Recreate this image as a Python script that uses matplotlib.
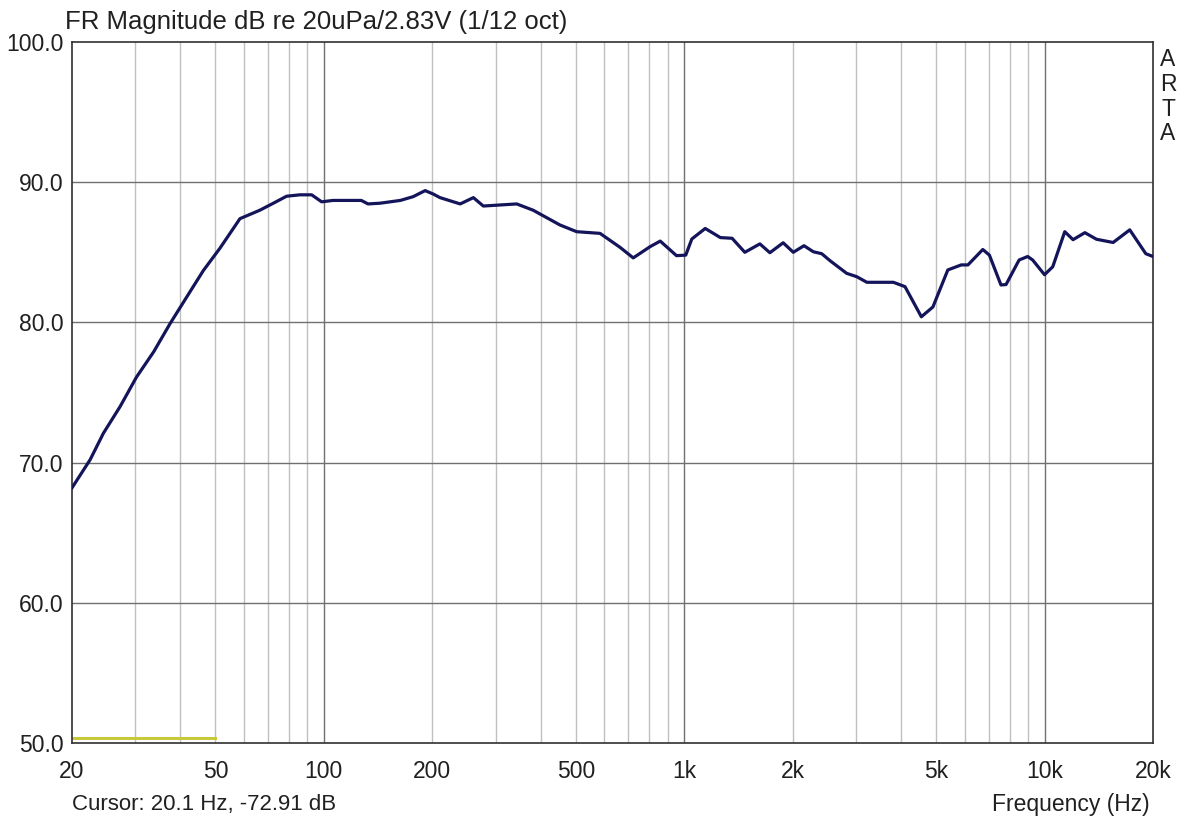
"""
ARTA style frequency response plot (1/12 oct smoothed).
"""
import numpy as np
import matplotlib
matplotlib.use('Agg')
import matplotlib.pyplot as plt
from matplotlib.ticker import FixedLocator, NullFormatter

# values
freq = [20, 22.45, 24.45, 27.2, 30.2, 33.7, 37.4, 41.6, 46.3, 51.5, 58.5,
        66.4, 72.4, 78.8, 85.8, 92.5, 98.6, 106, 127, 132.6, 143, 163, 177,
        191, 201, 210, 239, 260, 277, 343, 381, 452, 503, 584, 664, 722, 804,
        858, 952, 1010, 1050, 1144, 1260, 1358, 1473, 1622, 1729, 1882, 2008,
        2150, 2282, 2408, 2540, 2824, 3012, 3214, 3808, 4100, 4552, 4900, 5390,
        5872, 6130, 6740, 7030, 7570, 7820, 8500, 8980, 9270, 10000, 10540,
        11380, 12000, 12940, 13940, 15500, 17240, 19100, 20000]
mag = [68.2, 70.2, 72.1, 74.0, 76.1, 77.9, 79.9, 81.8, 83.7, 85.3, 87.4,
       88.0, 88.5, 89.0, 89.1, 89.1, 88.6, 88.7, 88.7, 88.45, 88.5, 88.7,
       88.97, 89.4, 89.16, 88.9, 88.45, 88.9, 88.3, 88.45, 88.0, 86.95, 86.47,
       86.35, 85.35, 84.6, 85.4, 85.8, 84.76, 84.8, 85.95, 86.7, 86.05, 86.0,
       85.0, 85.6, 84.97, 85.68, 85.0, 85.47, 85.04, 84.9, 84.4, 83.5, 83.26,
       82.86, 82.86, 82.55, 80.4, 81.1, 83.74, 84.1, 84.1, 85.2, 84.8, 82.67,
       82.7, 84.45, 84.7, 84.45, 83.4, 83.97, 86.47, 85.9, 86.4, 85.93, 85.7,
       86.6, 84.9, 84.7]

# level marker drawn by ARTA at the bottom left
marker_f = [20, 50]
marker_db = [50.35, 50.35]

x_major = [20, 50, 100, 200, 500, 1000, 2000, 5000, 10000, 20000]
x_labels = ['20', '50', '100', '200', '500', '1k', '2k', '5k', '10k', '20k']
y_ticks = [50, 60, 70, 80, 90, 100]

plt.rcParams['font.family'] = ['Liberation Sans', 'DejaVu Sans']

fig = plt.figure(figsize=(11.86, 8.21), dpi=100)
ax = fig.add_axes([72 / 1186, 1 - 743 / 821, 1081 / 1186, 701 / 821])

ax.set_xscale('log')
ax.set_xlim(20, 20000)
ax.set_ylim(50, 100)

# grid: every 1-9 per decade light, decades darker
minor = [m * 10 ** d for d in range(1, 5) for m in range(1, 10)]
minor = [f for f in minor if 20 < f < 20000 and f not in (100, 1000, 10000)]
for f in minor:
    ax.axvline(f, color='#c0c0c0', lw=1.0, zorder=1)
for f in (100, 1000, 10000):
    ax.axvline(f, color='#707070', lw=1.0, zorder=1)
for y in y_ticks[1:-1]:
    ax.axhline(y, color='#707070', lw=1.0, zorder=1)

ax.plot(freq, mag, color='#14145a', lw=2.3, zorder=3)
ax.plot(marker_f, marker_db, color='#c8c83c', lw=2.2, zorder=2)

ax.xaxis.set_major_locator(FixedLocator(x_major))
ax.set_xticklabels(x_labels)
ax.xaxis.set_minor_formatter(NullFormatter())
ax.tick_params(axis='x', which='both', length=0, labelsize=16.5, pad=12,
               colors='#202020')
ax.set_yticks(y_ticks)
ax.set_yticklabels([f'{v:.1f}' for v in y_ticks])
ax.tick_params(axis='y', length=0, labelsize=16.5, pad=6, colors='#202020')

for s in ax.spines.values():
    s.set_color('#303030')
    s.set_linewidth(1.2)

fig.text(65 / 1186, 1 - 22 / 821, 'FR Magnitude dB re 20uPa/2.83V (1/12 oct)',
         fontsize=18.5, color='#202020', ha='left', va='center')
fig.text(72 / 1186, 1 - 804 / 821, 'Cursor: 20.1 Hz, -72.91 dB',
         fontsize=16, color='#202020', ha='left', va='center')
fig.text(1150 / 1186, 1 - 804 / 821, 'Frequency (Hz)',
         fontsize=16.5, color='#202020', ha='right', va='center')
for i, ch in enumerate('ARTA'):
    fig.text(1168 / 1186, 1 - (60 + i * 24.5) / 821, ch, fontsize=16.5,
             color='#202020', ha='center', va='center')

fig.savefig('out.png', dpi=100)
